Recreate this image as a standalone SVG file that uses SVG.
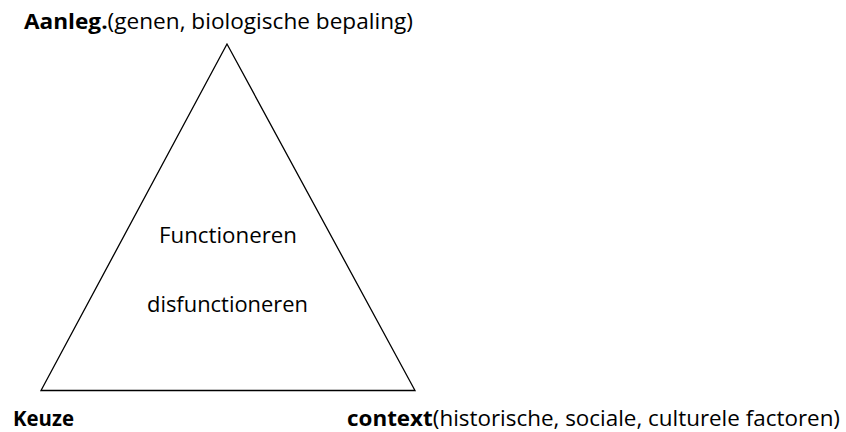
<svg xmlns="http://www.w3.org/2000/svg" width="846" height="432" viewBox="0 0 846 432">
<style>
text{font-family:"Open Sans","Liberation Sans",sans-serif;font-size:22px;fill:#000}
.b{font-weight:bold}
.tri{fill:none;stroke:#000;stroke-width:1.3}
</style>
<rect width="846" height="432" fill="#fff"/>
<g id="triangle">
<polygon class="tri" points="227,44 41,390.5 415,390.5"/>
</g>
<g id="center">
<text x="159" y="243" textLength="138" lengthAdjust="spacingAndGlyphs">Functioneren</text>
<text x="147" y="312" textLength="161" lengthAdjust="spacingAndGlyphs">disfunctioneren</text>
</g>
<g id="aanleg">
<text x="24" y="29" textLength="389" lengthAdjust="spacingAndGlyphs"><tspan class="b">Aanleg.</tspan>(genen, biologische bepaling)</text>
</g>
<g id="keuze">
<text x="13" y="426" class="b" textLength="61" lengthAdjust="spacingAndGlyphs">Keuze</text>
</g>
<g id="context">
<text x="347" y="426" textLength="493" lengthAdjust="spacingAndGlyphs"><tspan class="b">context</tspan>(historische, sociale, culturele factoren)</text>
</g>
</svg>
